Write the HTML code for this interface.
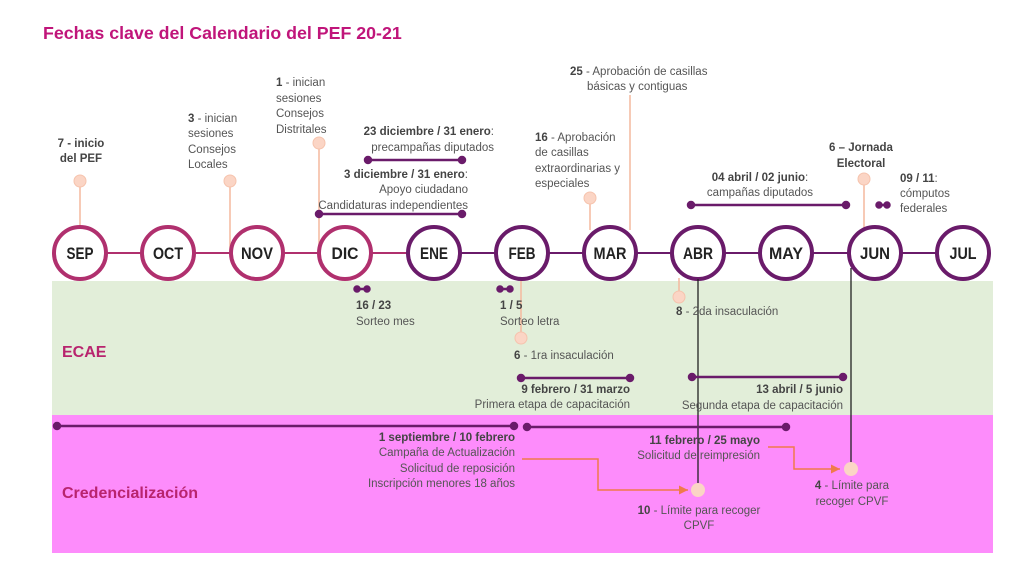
<!DOCTYPE html>
<html><head><meta charset="utf-8"><style>
html,body{margin:0;padding:0;background:#fff}
svg{display:block}
text{font-family:"Liberation Sans",sans-serif;font-size:11.5px;fill:#555}
.b{font-weight:bold;fill:#444}
.m{font-size:17px;font-weight:bold;fill:#222;text-anchor:middle}
</style></head><body>
<svg width="1024" height="576" viewBox="0 0 1024 576">
<defs><marker id="ar" markerWidth="8" markerHeight="8" refX="6" refY="3" orient="auto"><path d="M0,0 L6,3 L0,6z" fill="#f07a4a"/></marker></defs>
<rect x="52" y="281" width="941" height="134" fill="#e2eed9"/>
<rect x="52" y="415" width="941" height="138" fill="#fd8cfb"/>
<text x="43" y="39" style="font-size:17.8px;font-weight:bold;fill:#c0157a">Fechas clave del Calendario del PEF 20-21</text>
<text x="62" y="357" style="font-size:16px;font-weight:bold;fill:#b8246e">ECAE</text>
<text x="62" y="498" style="font-size:16px;font-weight:bold;fill:#b8246e">Credencialización</text>
<line x1="80" y1="253" x2="434" y2="253" stroke="#b0306e" stroke-width="2"/>
<line x1="434" y1="253" x2="963" y2="253" stroke="#6a1b6a" stroke-width="2"/>
<g stroke="#f4b99e" stroke-width="1.5">
<line x1="80" y1="181" x2="80" y2="228"/>
<line x1="230" y1="181" x2="230" y2="253"/>
<line x1="319" y1="143" x2="319" y2="253"/>
<line x1="590" y1="198" x2="590" y2="230"/>
<line x1="630" y1="95" x2="630" y2="230"/>
<line x1="864" y1="179" x2="864" y2="228"/>
<line x1="521" y1="278" x2="521" y2="338"/>
<line x1="679" y1="278" x2="679" y2="297"/>
</g>
<g fill="#fbd5c5" stroke="#f6c3ad">
<circle cx="80" cy="181" r="6"/><circle cx="230" cy="181" r="6"/><circle cx="319" cy="143" r="6"/>
<circle cx="590" cy="198" r="6"/><circle cx="864" cy="179" r="6"/><circle cx="521" cy="338" r="6"/><circle cx="679" cy="297" r="6"/>
</g>
<g stroke-width="4" fill="#fff">
<circle cx="80" cy="253" r="26" stroke="#b0306e"/>
<circle cx="168" cy="253" r="26" stroke="#b0306e"/>
<circle cx="257" cy="253" r="26" stroke="#b0306e"/>
<circle cx="345" cy="253" r="26" stroke="#b0306e"/>
<circle cx="434" cy="253" r="26" stroke="#6a1b6a"/>
<circle cx="522" cy="253" r="26" stroke="#6a1b6a"/>
<circle cx="610" cy="253" r="26" stroke="#6a1b6a"/>
<circle cx="698" cy="253" r="26" stroke="#6a1b6a"/>
<circle cx="786" cy="253" r="26" stroke="#6a1b6a"/>
<circle cx="875" cy="253" r="26" stroke="#6a1b6a"/>
<circle cx="963" cy="253" r="26" stroke="#6a1b6a"/>
</g>
<text x="80" y="259" class="m" textLength="27" lengthAdjust="spacingAndGlyphs">SEP</text>
<text x="168" y="259" class="m" textLength="30" lengthAdjust="spacingAndGlyphs">OCT</text>
<text x="257" y="259" class="m" textLength="32" lengthAdjust="spacingAndGlyphs">NOV</text>
<text x="345" y="259" class="m" textLength="27" lengthAdjust="spacingAndGlyphs">DIC</text>
<text x="434" y="259" class="m" textLength="28" lengthAdjust="spacingAndGlyphs">ENE</text>
<text x="522" y="259" class="m" textLength="27" lengthAdjust="spacingAndGlyphs">FEB</text>
<text x="610" y="259" class="m" textLength="33" lengthAdjust="spacingAndGlyphs">MAR</text>
<text x="698" y="259" class="m" textLength="30" lengthAdjust="spacingAndGlyphs">ABR</text>
<text x="786" y="259" class="m" textLength="34" lengthAdjust="spacingAndGlyphs">MAY</text>
<text x="875" y="259" class="m" textLength="30" lengthAdjust="spacingAndGlyphs">JUN</text>
<text x="963" y="259" class="m" textLength="27" lengthAdjust="spacingAndGlyphs">JUL</text>
<line x1="698" y1="279" x2="698" y2="490" stroke="#222" stroke-width="1.3"/>
<line x1="851" y1="268" x2="851" y2="468" stroke="#222" stroke-width="1.3"/>
<g stroke="#6a1b6a" stroke-width="2.5" fill="#6a1b6a">
<line x1="368" y1="160" x2="462" y2="160"/><circle cx="368" cy="160" r="3"/><circle cx="462" cy="160" r="3"/>
<line x1="319" y1="214" x2="462" y2="214"/><circle cx="319" cy="214" r="3"/><circle cx="462" cy="214" r="3"/>
<line x1="691" y1="205" x2="846" y2="205"/><circle cx="691" cy="205" r="3"/><circle cx="846" cy="205" r="3"/>
<line x1="879" y1="205" x2="887" y2="205"/><circle cx="879" cy="205" r="2.5"/><circle cx="887" cy="205" r="2.5"/>
<line x1="357" y1="289" x2="367" y2="289"/><circle cx="357" cy="289" r="2.5"/><circle cx="367" cy="289" r="2.5"/>
<line x1="500" y1="289" x2="510" y2="289"/><circle cx="500" cy="289" r="2.5"/><circle cx="510" cy="289" r="2.5"/>
<line x1="521" y1="378" x2="630" y2="378"/><circle cx="521" cy="378" r="3"/><circle cx="630" cy="378" r="3"/>
<line x1="692" y1="377" x2="843" y2="377"/><circle cx="692" cy="377" r="3"/><circle cx="843" cy="377" r="3"/>
<line x1="57" y1="426" x2="514" y2="426"/><circle cx="57" cy="426" r="3"/><circle cx="514" cy="426" r="3"/>
<line x1="527" y1="427" x2="786" y2="427"/><circle cx="527" cy="427" r="3"/><circle cx="786" cy="427" r="3"/>
</g>
<polyline points="522,459 598,459 598,490 688,490" fill="none" stroke="#f07a4a" stroke-width="1.5" marker-end="url(#ar)"/>
<polyline points="768,447 794,447 794,469 840,469" fill="none" stroke="#f07a4a" stroke-width="1.5" marker-end="url(#ar)"/>
<circle cx="698" cy="490" r="7" fill="#fbd5c5"/>
<circle cx="851" cy="469" r="7" fill="#fbd5c5"/>
<g text-anchor="middle"><text x="81" y="147" class="b">7 - inicio</text><text x="81" y="162" class="b">del PEF</text></g>
<text x="188" y="122"><tspan class="b">3</tspan> - inician</text><text x="188" y="137">sesiones</text><text x="188" y="153">Consejos</text><text x="188" y="168">Locales</text>
<text x="276" y="86"><tspan class="b">1</tspan> - inician</text><text x="276" y="102">sesiones</text><text x="276" y="117">Consejos</text><text x="276" y="133">Distritales</text>
<g text-anchor="end">
<text x="494" y="135"><tspan class="b">23 diciembre / 31 enero</tspan>:</text><text x="494" y="151">precampañas diputados</text>
<text x="468" y="178"><tspan class="b">3 diciembre / 31 enero</tspan>:</text><text x="468" y="193">Apoyo ciudadano</text><text x="468" y="209">Candidaturas independientes</text>
</g>
<text x="535" y="141"><tspan class="b">16</tspan> - Aprobación</text><text x="535" y="156">de casillas</text><text x="535" y="172">extraordinarias y</text><text x="535" y="187">especiales</text>
<text x="570" y="75"><tspan class="b">25</tspan> - Aprobación de casillas</text><text x="587" y="90">básicas y contiguas</text>
<g text-anchor="middle"><text x="760" y="181"><tspan class="b">04 abril / 02 junio</tspan>:</text><text x="760" y="196">campañas diputados</text>
<text x="861" y="151" class="b">6 – Jornada</text><text x="861" y="167" class="b">Electoral</text></g>
<text x="900" y="182"><tspan class="b">09 / 11</tspan>:</text><text x="900" y="197">cómputos</text><text x="900" y="212">federales</text>
<text x="356" y="309" class="b">16 / 23</text><text x="356" y="325">Sorteo mes</text>
<text x="500" y="309" class="b">1 / 5</text><text x="500" y="325">Sorteo letra</text>
<text x="514" y="359"><tspan class="b">6</tspan> - 1ra insaculación</text>
<text x="676" y="315"><tspan class="b">8</tspan> - 2da insaculación</text>
<g text-anchor="end">
<text x="630" y="393" class="b">9 febrero / 31 marzo</text><text x="630" y="408">Primera etapa de capacitación</text>
<text x="843" y="393" class="b">13 abril / 5 junio</text><text x="843" y="409">Segunda etapa de capacitación</text>
<text x="515" y="441" class="b">1 septiembre /  10 febrero</text><text x="515" y="456">Campaña de Actualización</text>
<text x="515" y="472">Solicitud de reposición</text><text x="515" y="487">Inscripción menores 18 años</text>
<text x="760" y="444" class="b">11 febrero / 25 mayo</text><text x="760" y="459">Solicitud de reimpresión</text>
</g>
<g text-anchor="middle">
<text x="699" y="514"><tspan class="b">10</tspan> - Límite para recoger</text><text x="699" y="529">CPVF</text>
<text x="852" y="489"><tspan class="b">4</tspan> - Límite para</text><text x="852" y="505">recoger CPVF</text>
</g>
</svg>
</body></html>
